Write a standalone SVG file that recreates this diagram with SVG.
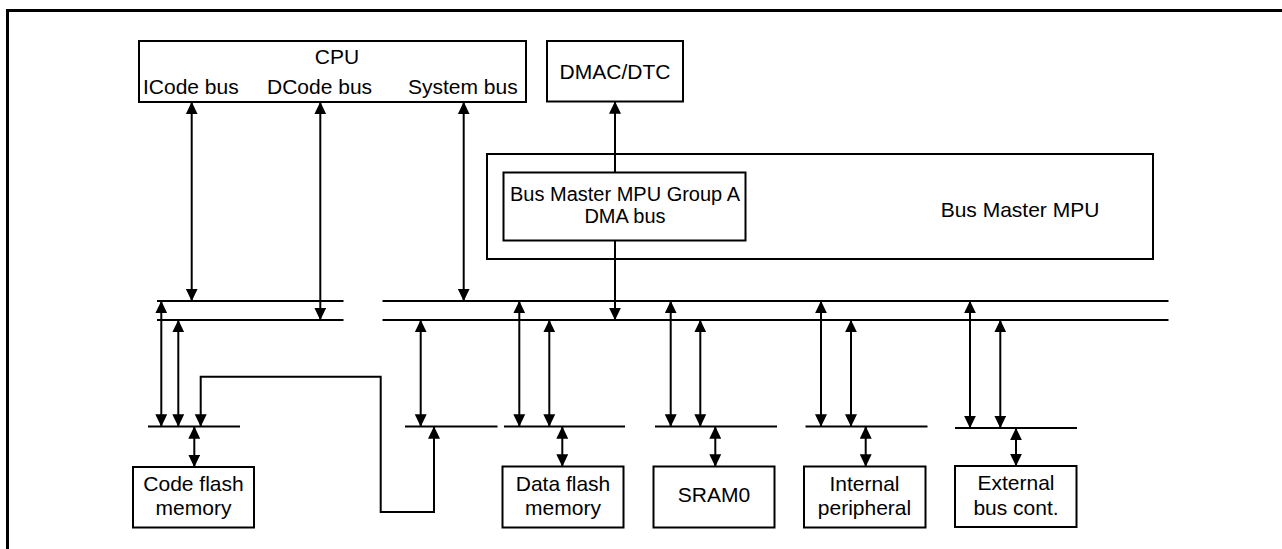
<svg xmlns="http://www.w3.org/2000/svg" width="1282" height="549" viewBox="0 0 1282 549">
<style>
.box{fill:#fff;stroke:#000;stroke-width:2}
.bus{stroke:#000;stroke-width:2;fill:none}
.ln{stroke:#000;stroke-width:2;fill:none}
.da{marker-start:url(#ah);marker-end:url(#ah)}
.sa{marker-end:url(#ah)}
text{font-family:"Liberation Sans",Arial,sans-serif;font-size:21px;fill:#000}
.m{text-anchor:middle}
.s20{font-size:20px}
</style>
<defs>
<marker id="ah" markerUnits="userSpaceOnUse" markerWidth="12.5" markerHeight="12" refX="12.3" refY="6" orient="auto-start-reverse" viewBox="0 0 12.5 12">
<path d="M0,0 L12.5,6 L0,12 z" fill="#000"/>
</marker>
</defs>
<rect width="1282" height="549" fill="#fff"/>
<path d="M7.5,549 V10.5 H1282" fill="none" stroke="#000" stroke-width="3"/>

<g id="cpu">
<rect class="box" x="139" y="41" width="387" height="61"/>
<text class="m" x="337" y="64">CPU</text>
<text x="143" y="94">ICode bus</text>
<text x="267" y="94">DCode bus</text>
<text x="408" y="94">System bus</text>
</g>
<g id="dmac">
<rect class="box" x="547" y="41" width="136" height="60.5"/>
<text class="m" x="615" y="78.5">DMAC/DTC</text>
</g>
<g id="mpu">
<rect class="box" x="487" y="154" width="666" height="105"/>
<text class="m" x="1020" y="217">Bus Master MPU</text>
</g>
<g id="mpu-group-a">
<rect class="box" x="503.5" y="172.5" width="242" height="68"/>
<text class="m s20" x="625" y="200.5">Bus Master MPU Group A</text>
<text class="m s20" x="625" y="222.5">DMA bus</text>
</g>
<g id="code-flash">
<rect class="box" x="133" y="467" width="121" height="60.5"/>
<text class="m" x="193.5" y="491">Code flash</text>
<text class="m" x="193.5" y="515">memory</text>
</g>
<g id="data-flash">
<rect class="box" x="502.5" y="466.5" width="121" height="61"/>
<text class="m" x="563" y="491">Data flash</text>
<text class="m" x="563" y="515">memory</text>
</g>
<g id="sram0">
<rect class="box" x="653.5" y="466.5" width="121" height="61"/>
<text class="m" x="714" y="502">SRAM0</text>
</g>
<g id="internal-peripheral">
<rect class="box" x="804" y="466.5" width="121.5" height="61"/>
<text class="m" x="864.5" y="491">Internal</text>
<text class="m" x="864.5" y="515">peripheral</text>
</g>
<g id="external-bus">
<rect class="box" x="955" y="466" width="121.5" height="61"/>
<text class="m" x="1016" y="490">External</text>
<text class="m" x="1016" y="514.5">bus cont.</text>
</g>

<g id="connectors">
<line class="bus" x1="157" y1="301" x2="343.5" y2="301"/>
<line class="bus" x1="157" y1="320" x2="343.5" y2="320"/>
<line class="bus" x1="382.5" y1="301" x2="1168.5" y2="301"/>
<line class="bus" x1="382.5" y1="320" x2="1168.5" y2="320"/>
<line class="bus" x1="148" y1="426.5" x2="240" y2="426.5"/>
<line class="bus" x1="405" y1="426.5" x2="497.5" y2="426.5"/>
<line class="bus" x1="504" y1="426.5" x2="625" y2="426.5"/>
<line class="bus" x1="655" y1="426.5" x2="777" y2="426.5"/>
<line class="bus" x1="805.5" y1="426.5" x2="927.5" y2="426.5"/>
<line class="bus" x1="955" y1="428" x2="1077" y2="428"/>
<line class="ln da" x1="191.7" y1="102" x2="191.7" y2="301"/>
<line class="ln da" x1="320.3" y1="102" x2="320.3" y2="320"/>
<line class="ln da" x1="463.7" y1="102" x2="463.7" y2="301"/>
<line class="ln sa" x1="615" y1="172.5" x2="615" y2="101.5"/>
<line class="ln sa" x1="615" y1="240.5" x2="615" y2="320"/>
<line class="ln da" x1="161.3" y1="301" x2="161.3" y2="426.5"/>
<line class="ln da" x1="178.3" y1="320" x2="178.3" y2="426.5"/>
<path class="ln da" d="M200.7,426.5 V376.7 H380.7 V512 H434 V426.5"/>
<line class="ln da" x1="194.3" y1="426.5" x2="194.3" y2="467"/>
<line class="ln da" x1="420.7" y1="320" x2="420.7" y2="426.5"/>
<line class="ln da" x1="519.3" y1="301" x2="519.3" y2="426.5"/>
<line class="ln da" x1="549.3" y1="320" x2="549.3" y2="426.5"/>
<line class="ln da" x1="562.3" y1="426.5" x2="562.3" y2="466.5"/>
<line class="ln da" x1="670.7" y1="301" x2="670.7" y2="426.5"/>
<line class="ln da" x1="700.3" y1="320" x2="700.3" y2="426.5"/>
<line class="ln da" x1="715.3" y1="426.5" x2="715.3" y2="466.5"/>
<line class="ln da" x1="821" y1="301" x2="821" y2="426.5"/>
<line class="ln da" x1="851" y1="320" x2="851" y2="426.5"/>
<line class="ln da" x1="865.7" y1="426.5" x2="865.7" y2="466.5"/>
<line class="ln da" x1="970" y1="301" x2="970" y2="428"/>
<line class="ln da" x1="1000.3" y1="320" x2="1000.3" y2="428"/>
<line class="ln da" x1="1016" y1="428" x2="1016" y2="466"/>
</g>
</svg>
